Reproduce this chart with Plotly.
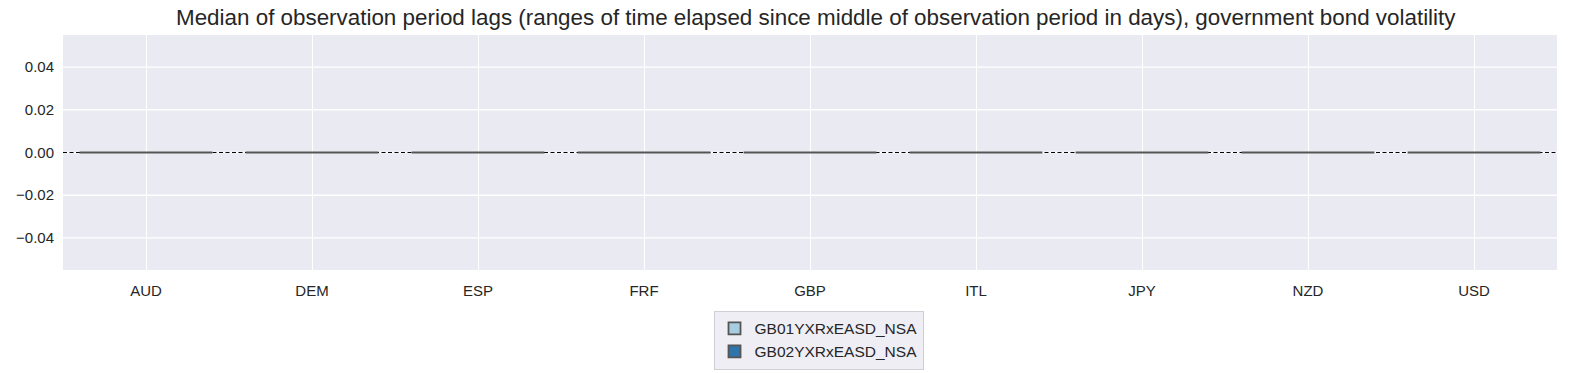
import plotly.graph_objects as go

categories = ["AUD", "DEM", "ESP", "FRF", "GBP", "ITL", "JPY", "NZD", "USD"]
series_names = ["GB01YXRxEASD_NSA", "GB02YXRxEASD_NSA"]
gb01_values = [0, 0, 0, 0, 0, 0, 0, 0, 0]
gb02_values = [0, 0, 0, 0, 0, 0, 0, 0, 0]
y_ticks = [-0.04, -0.02, 0.0, 0.02, 0.04]
y_tick_labels = ["\u22120.04", "\u22120.02", "0.00", "0.02", "0.04"]

colors = ["#a9cde0", "#2f75aa"]
fig = go.Figure()
for name, vals, c in zip(series_names, [gb01_values, gb02_values], colors):
    fig.add_trace(go.Bar(
        x=categories, y=vals, name=name,
        marker=dict(color=c, line=dict(color="#555555", width=1.8)),
    ))

# horizontal grid lines as shapes so the dashed zero line can sit above them
for t in y_ticks:
    fig.add_hline(y=t, layer="below", line=dict(color="white", width=1.3))
fig.add_hline(y=0, layer="below", line=dict(color="black", width=1.1, dash="4px,2.5px"))

fig.update_layout(
    width=1584, height=373,
    margin=dict(l=63, r=27, t=35, b=103),
    paper_bgcolor="white",
    plot_bgcolor="#eaeaf2",
    barmode="group",
    bargap=0.2,
    bargroupgap=0,
    font=dict(family="Liberation Sans, Arial, sans-serif", size=15, color="#262626"),
    title=dict(
        text="Median of observation period lags (ranges of time elapsed since middle of observation period in days), government bond volatility",
        x=0.515, xanchor="center", y=0.953, yanchor="middle",
        font=dict(size=22.4, color="#262626"),
    ),
    xaxis=dict(
        showgrid=True, gridcolor="white", gridwidth=1.3,
        range=[-0.5, 8.5], ticks="", ticklabelstandoff=10,
        zeroline=False, showline=False,
    ),
    yaxis=dict(
        range=[-0.055, 0.055], tickvals=y_ticks, ticktext=y_tick_labels,
        showgrid=False,
        zeroline=False, showline=False, ticks="", ticklabelstandoff=8,
    ),
    showlegend=True,
    legend=dict(
        orientation="v", x=0.5057, xanchor="center",
        yref="container", y=0.167, yanchor="top",
        bgcolor="#eeeef4", bordercolor="#cfcfd6", borderwidth=1,
        font=dict(size=15.5, color="#262626"),
        tracegroupgap=0, itemwidth=30,
    ),
)

fig.write_html("out.html", config={"displayModeBar": False},
               post_script="document.body.style.margin='0';")
